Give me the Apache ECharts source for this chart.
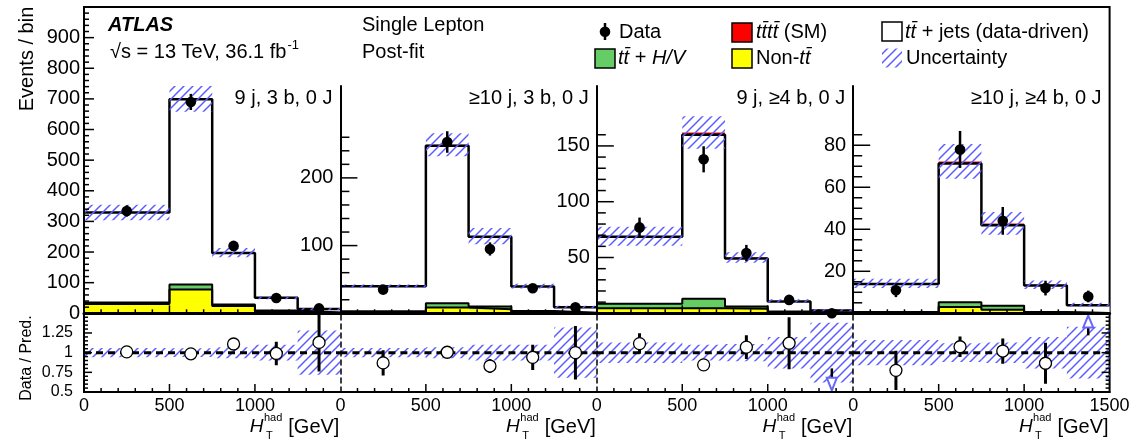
<!DOCTYPE html>
<html><head><meta charset="utf-8">
<script src="https://cdn.jsdelivr.net/npm/echarts@6/dist/echarts.min.js"></script>
<style>html,body{margin:0;padding:0;background:#fff}#c{width:1140px;height:441px}</style>
</head><body><div id="c"></div>
<script>
// ---------------- data ----------------
const binEdges = [0, 500, 750, 1000, 1250, 1500];
const regionLabels = ['9 j, 3 b, 0 J', '\u226510 j, 3 b, 0 J', '9 j, \u22654 b, 0 J', '\u226510 j, \u22654 b, 0 J'];

// panel 1 : 9 j, 3 b, 0 J
const p1Pred = [329, 700, 198, 51, 14];
const p1NonTT = [30, 78, 24, 6, 2];
const p1TtHV = [5, 16, 5, 3, 0.8];
const p1Tttt = [0.3, 1.5, 0.8, 0.4, 0.2];
const p1Unc = [25, 42, 15, 5, 3];
const p1Data = [334, 690, 220, 50, 16];
const p1DataErr = [18.3, 26.3, 14.8, 7.1, 4];
const p1Ratio = [1.01, 0.985, 1.11, 0.99, 1.13];
const p1RatioErr = [0.055, 0.04, 0.07, 0.15, 0.37];
const p1RatioUnc = [0.06, 0.055, 0.07, 0.1, 0.28];

// panel 2 : >=10 j, 3 b, 0 J
const p2Pred = [40, 249, 114, 40, 9.3];
const p2NonTT = [2, 8.5, 6, 2, 0.5];
const p2TtHV = [1, 6.5, 4, 1.5, 0.3];
const p2Tttt = [0.2, 1.5, 1, 0.5, 0.2];
const p2Unc = [2.5, 17, 12, 3.5, 2];
const p2Data = [35, 253, 95, 37, 9];
const p2DataErr = [5.9, 15.9, 9.7, 6.1, 3];
const p2Ratio = [0.87, 1.005, 0.83, 0.94, 1.0];
const p2RatioErr = [0.16, 0.065, 0.09, 0.16, 0.34];
const p2RatioUnc = [0.06, 0.07, 0.1, 0.1, 0.32];

// panel 3 : 9 j, >=4 b, 0 J
const p3Pred = [69, 162, 50, 11, 2.8];
const p3NonTT = [4.5, 4.5, 4, 1, 0.3];
const p3TtHV = [4, 8.5, 2, 0.7, 0.2];
const p3Tttt = [0.5, 2, 1, 0.5, 0.3];
const p3Unc = [8.5, 14.5, 4.6, 1.5, 1];
const p3Data = [77, 138, 54, 12, 0];
const p3DataErr = [8.8, 11.7, 7.3, 3.5, 0];
const p3Ratio = [1.115, 0.845, 1.07, 1.12, null];
const p3RatioErr = [0.13, 0.07, 0.15, 0.33, 0];
const p3RatioUnc = [0.13, 0.1, 0.11, 0.2, 0.38];

// panel 4 : >=10 j, >=4 b, 0 J
const p4Pred = [14.2, 72.3, 42.8, 13.6, 4.1];
const p4NonTT = [0.3, 3, 1.7, 0.3, 0.1];
const p4TtHV = [0.3, 2.3, 1.9, 0.3, 0.1];
const p4Tttt = [0.2, 1, 0.9, 0.4, 0.3];
const p4Unc = [2.2, 8.3, 5.4, 2, 0.9];
const p4Data = [11, 78, 44, 12, 8];
const p4DataErr = [3.3, 8.8, 6.6, 3.5, 2.8];
const p4Ratio = [0.775, 1.075, 1.02, 0.865, null];
const p4RatioErr = [0.25, 0.13, 0.16, 0.26, 0];
const p4RatioUnc = [0.16, 0.12, 0.13, 0.2, 0.33];

// out-of-range ratio arrows: [x, lineStart, triangleBase, triangleTip]
const p3ArrowsDown = [[1375, 0.8, 0.68, 0.52]];
const p4ArrowsUp = [[1375, 1.22, 1.32, 1.47]];

// tick labels
const topLabels1 = [0, 100, 200, 300, 400, 500, 600, 700, 800, 900];
const topLabels2 = [100, 200];
const topLabels3 = [50, 100, 150];
const topLabels4 = [20, 40, 60, 80];
const ratioLabels = [0.5, 0.75, 1, 1.25];
const xLabels = [0, 500, 1000];
const xLabelsLast = [0, 500, 1000, 1500];

// ---------------- style / layout ----------------
const FONT = '"Liberation Sans", Arial, Helvetica, sans-serif';
const HATCH = '#5c5cff';
const COLORS = ['#ffff00', '#66cc66', '#ffffff', '#ff0000'];
const PX = [84, 340.4, 596.8, 853.2, 1109.6];
const TOP1 = 7, TOPN = 86, MIDY = 313.3, BOTY = 392;
const yMaxTop = [1000, 335.7, 203.7, 108.2];

function rng(a, b, s) { const r = []; for (let v = a; v <= b + 1e-9; v += s) r.push(+v.toFixed(6)); return r; }
const topMajor = [rng(0, 1000, 100), [0, 100, 200], [0, 50, 100, 150], [0, 20, 40, 60, 80]];
const topMinor = [rng(0, 1000, 20), rng(0, 260, 20), rng(0, 160, 10), rng(0, 85, 5)];
const topLabels = [topLabels1, topLabels2, topLabels3, topLabels4];
const topTickLen = [10, 17, 17, 17], topMinLen = [5, 9, 9, 9], topMargin = [4, 7, 7, 7];

const panels = [
  {pred: p1Pred, nonTT: p1NonTT, ttHV: p1TtHV, tttt: p1Tttt, unc: p1Unc, data: p1Data, err: p1DataErr, ratio: p1Ratio, rerr: p1RatioErr, runc: p1RatioUnc, up: [], down: []},
  {pred: p2Pred, nonTT: p2NonTT, ttHV: p2TtHV, tttt: p2Tttt, unc: p2Unc, data: p2Data, err: p2DataErr, ratio: p2Ratio, rerr: p2RatioErr, runc: p2RatioUnc, up: [], down: []},
  {pred: p3Pred, nonTT: p3NonTT, ttHV: p3TtHV, tttt: p3Tttt, unc: p3Unc, data: p3Data, err: p3DataErr, ratio: p3Ratio, rerr: p3RatioErr, runc: p3RatioUnc, up: [], down: p3ArrowsDown},
  {pred: p4Pred, nonTT: p4NonTT, ttHV: p4TtHV, tttt: p4Tttt, unc: p4Unc, data: p4Data, err: p4DataErr, ratio: p4Ratio, rerr: p4RatioErr, runc: p4RatioUnc, up: p4ArrowsUp, down: []}
];

const hatchCanvas = (function () {
  const s = 9, c = document.createElement('canvas'); c.width = s; c.height = s;
  const g = c.getContext('2d'); g.strokeStyle = HATCH; g.lineWidth = 1.5; g.beginPath();
  [[-1, s + 1, s + 1, -1], [-1, 1, 1, -1], [s - 1, s + 1, s + 1, s - 1]].forEach(l => { g.moveTo(l[0], l[1]); g.lineTo(l[2], l[3]); });
  g.stroke(); return c;
})();
const HATCH_FILL = {image: hatchCanvas, repeat: 'repeat'};

// ---------------- axes ----------------
const grids = [], xAxes = [], yAxes = [];
grids.push({left: PX[0], top: TOP1, width: PX[4] - PX[0], height: BOTY - TOP1, show: true, borderColor: '#000', borderWidth: 2, backgroundColor: 'rgba(0,0,0,0)', outerBoundsMode: 'none'});
xAxes.push({gridIndex: 0, type: 'value', min: 0, max: 1, show: false});
yAxes.push({gridIndex: 0, type: 'value', min: 0, max: 1, show: false});

function axis(o) {
  return {
    type: 'value', gridIndex: o.grid, min: o.min, max: o.max, position: o.pos, z: 10, silent: true,
    axisLine: {show: !!o.line, onZero: false, lineStyle: {color: '#000', width: o.lw || 2, type: o.dash || 'solid'}},
    axisTick: {show: false},
    axisLabel: o.labels ? {show: true, customValues: o.labels, formatter: v => String(v), fontSize: o.fs, fontFamily: FONT, color: '#000', margin: o.margin} : {show: false},
    splitLine: {show: false}
  };
}
for (let p = 0; p < 4; p++) {
  const top = p ? TOPN : TOP1;
  grids.push({left: PX[p], top: top, width: PX[p + 1] - PX[p], height: MIDY - top, outerBoundsMode: 'none'});
  xAxes.push(axis({grid: 1 + p, min: 0, max: 1500, pos: 'bottom', line: true, lw: 3}));
  yAxes.push(axis({grid: 1 + p, min: 0, max: yMaxTop[p], pos: 'left', line: true, lw: 2, labels: topLabels[p], fs: 20, margin: topMargin[p]}));
}
for (let p = 0; p < 4; p++) {
  grids.push({left: PX[p], top: MIDY, width: PX[p + 1] - PX[p], height: BOTY - MIDY, outerBoundsMode: 'none'});
  xAxes.push(axis({grid: 5 + p, min: 0, max: 1500, pos: 'bottom', line: true, lw: 2, labels: p === 3 ? xLabelsLast : xLabels, fs: 18, margin: 5}));
  if (p === 0) yAxes.push(axis({grid: 5, min: 0.5, max: 1.5, pos: 'left', line: true, lw: 2, labels: ratioLabels, fs: 16, margin: 11}));
  else yAxes.push(axis({grid: 5 + p, min: 0.5, max: 1.5, pos: 'left', line: true, lw: 1.5, dash: [5, 4]}));
}

// ---------------- series ----------------
const series = [];
function tickSeries(ai, vals, len, kind, xMin, xMax, yMin) {
  series.push({type: 'custom', xAxisIndex: ai, yAxisIndex: ai, data: vals.map(v => [v]), z: 12, silent: true,
    renderItem: function (params, api) {
      const v = api.value(0);
      let p, q;
      if (kind === 'L') { p = api.coord([xMin, v]); q = [p[0] + len, p[1]]; }
      else if (kind === 'R') { p = api.coord([xMax, v]); q = [p[0] - len, p[1]]; }
      else { p = api.coord([v, yMin]); q = [p[0], p[1] - len]; }
      return {type: 'line', shape: {x1: p[0], y1: p[1], x2: q[0], y2: q[1]}, style: {stroke: '#000', lineWidth: 1.5}};
    }});
}
const xMajor = [500, 1000], xMinor = rng(100, 1400, 100).filter(v => v % 500 !== 0);
for (let p = 0; p < 4; p++) {
  const t = 1 + p, r = 5 + p;
  tickSeries(t, xMajor, 8, 'B', 0, 1500, 0);
  tickSeries(t, xMinor, 4, 'B', 0, 1500, 0);
  tickSeries(t, topMajor[p].filter(v => v > 0), topTickLen[p], 'L', 0, 1500, 0);
  tickSeries(t, topMinor[p].filter(v => topMajor[p].indexOf(v) < 0), topMinLen[p], 'L', 0, 1500, 0);
  tickSeries(r, xMajor, 8, 'B', 0, 1500, 0.5);
  tickSeries(r, xMinor, 4, 'B', 0, 1500, 0.5);
}
const rMajor = [0.75, 1, 1.25], rMinor = rng(0.55, 1.45, 0.05).filter(v => rMajor.indexOf(v) < 0);
tickSeries(5, rMajor, 8, 'L', 0, 1500, 0.5);
tickSeries(5, rMinor, 4, 'L', 0, 1500, 0.5);
tickSeries(8, rMajor, 8, 'R', 0, 1500, 0.5);
tickSeries(8, rMinor, 4, 'R', 0, 1500, 0.5);

function rectRender(styleFn) {
  return function (params, api) {
    const a = api.coord([api.value(0), api.value(3)]);
    const b = api.coord([api.value(1), api.value(2)]);
    return {type: 'rect', shape: {x: a[0], y: a[1], width: b[0] - a[0], height: b[1] - a[1]}, style: styleFn(api.value(4))};
  };
}
function pointRender(open) {
  return function (params, api) {
    const x = api.value(0), y = api.value(1), e = api.value(2);
    const c = api.coord([x, y]), t = api.coord([x, y + e]), b = api.coord([x, y - e]);
    return {type: 'group', children: [
      {type: 'line', shape: {x1: c[0], y1: t[1], x2: c[0], y2: b[1]}, style: {stroke: '#000', lineWidth: open ? 3 : 2.5}},
      {type: 'circle', shape: {cx: c[0], cy: c[1], r: open ? 6 : 5.3}, style: {fill: open ? '#fff' : '#000', stroke: '#000', lineWidth: open ? 1.3 : 0}}
    ]};
  };
}
function arrowRender(params, api) {
  const x = api.value(0);
  const s = api.coord([x, api.value(1)]), b = api.coord([x, api.value(2)]), t = api.coord([x, api.value(3)]);
  return {type: 'group', children: [
    {type: 'line', shape: {x1: s[0], y1: s[1], x2: b[0], y2: b[1]}, style: {stroke: '#000', lineWidth: 2.5}},
    {type: 'polygon', shape: {points: [[b[0] - 5, b[1]], [b[0] + 5, b[1]], [t[0], t[1]]]}, style: {fill: '#fff', stroke: '#6666ff', lineWidth: 2}}
  ]};
}
const centers = binEdges.slice(0, 5).map((e, i) => (e + binEdges[i + 1]) / 2);
function stepData(c) { return binEdges.slice(0, 5).map((x, i) => [x, c[i]]).concat([[binEdges[5], c[4]]]); }

panels.forEach((P, p) => {
  const xi = 1 + p, yi = 1 + p, rxi = 5 + p, ryi = 5 + p;
  const fill = [], c1 = [], c2 = [], c3 = [], unc = [], pts = [];
  for (let i = 0; i < 5; i++) {
    const jets = P.pred[i] - P.nonTT[i] - P.ttHV[i] - P.tttt[i];
    const comps = [P.nonTT[i], P.ttHV[i], jets, P.tttt[i]];
    let c = 0;
    comps.forEach((v, k) => { fill.push([binEdges[i], binEdges[i + 1], c, c + v, k]); c += v; });
    c1.push(P.nonTT[i]); c2.push(P.nonTT[i] + P.ttHV[i]); c3.push(P.pred[i] - P.tttt[i]);
    unc.push([binEdges[i], binEdges[i + 1], P.pred[i] - P.unc[i], P.pred[i] + P.unc[i], 0]);
    pts.push([centers[i], P.data[i], P.err[i]]);
  }
  series.push({type: 'custom', xAxisIndex: xi, yAxisIndex: yi, data: fill, z: 2, silent: true, renderItem: rectRender(k => ({fill: COLORS[k]}))});
  [c1, c2, c3].forEach((c, k) => series.push({type: 'line', xAxisIndex: xi, yAxisIndex: yi, data: stepData(c), step: 'end', symbol: 'none', silent: true, z: 3, lineStyle: {color: '#000', width: k === 2 ? 2.5 : 2}}));
  series.push({type: 'custom', xAxisIndex: xi, yAxisIndex: yi, data: unc, z: 4, silent: true, renderItem: rectRender(() => ({fill: HATCH_FILL}))});
  series.push({type: 'custom', xAxisIndex: xi, yAxisIndex: yi, data: pts, z: 5, silent: true, renderItem: pointRender(false)});

  const runc = [], rpts = [];
  for (let i = 0; i < 5; i++) {
    runc.push([binEdges[i], binEdges[i + 1], 1 - P.runc[i], 1 + P.runc[i], 0]);
    if (P.ratio[i] !== null) rpts.push([centers[i], P.ratio[i], P.rerr[i]]);
  }
  series.push({type: 'custom', xAxisIndex: rxi, yAxisIndex: ryi, data: runc, z: 3, clip: true, silent: true, renderItem: rectRender(() => ({fill: HATCH_FILL}))});
  series.push({type: 'line', xAxisIndex: rxi, yAxisIndex: ryi, data: [[0, 1], [1500, 1]], symbol: 'none', silent: true, z: 4, lineStyle: {color: '#000', width: 3, type: [7, 5]}});
  series.push({type: 'custom', xAxisIndex: rxi, yAxisIndex: ryi, data: rpts, z: 5, clip: true, silent: true, renderItem: pointRender(true)});
  const arrows = P.up.concat(P.down);
  if (arrows.length) series.push({type: 'custom', xAxisIndex: rxi, yAxisIndex: ryi, data: arrows, z: 6, silent: true, renderItem: arrowRender});
});

// ---------------- texts / legend ----------------
const mctx = document.createElement('canvas').getContext('2d');
function measure(t, size, style) { mctx.font = (style || '') + ' ' + size + 'px ' + FONT; return mctx.measureText(t).width; }
const graphic = [];
function txt(text, x, y, o) {
  o = o || {};
  const st = {text: text, fill: '#000', fontSize: o.fs || 20, fontFamily: FONT, fontStyle: o.italic ? 'italic' : 'normal', fontWeight: o.bold ? 'bold' : 'normal',
    align: o.align || 'left', textAlign: o.align || 'left', verticalAlign: 'middle', textVerticalAlign: 'middle'};
  if (o.rich) st.rich = o.rich;
  graphic.push({type: 'text', x: x, y: y, rotation: o.rot || 0, silent: true, z: 20, style: st});
}
const TB = 't\u0304';
const rich = {i: {fontStyle: 'italic', fontSize: 20, fontFamily: FONT, fill: '#000'}, n: {fontSize: 20, fontFamily: FONT, fill: '#000'}};

txt('ATLAS', 108, 25, {bold: true, italic: true});
const sq = '\u221As = 13 TeV, 36.1 fb';
txt(sq, 110, 52);
txt('-1', 110 + measure(sq, 20) + 1, 45, {fs: 13});
txt('Single Lepton', 362, 25);
txt('Post-fit', 362, 52);
graphic.push({type: 'line', silent: true, z: 20, shape: {x1: 605, y1: 23, x2: 605, y2: 40}, style: {stroke: '#000', lineWidth: 2.5}});
graphic.push({type: 'circle', silent: true, z: 20, shape: {cx: 605, cy: 31.7, r: 5.3}, style: {fill: '#000'}});
txt('Data', 619, 32);
function box(x, y, fill, stroke) { graphic.push({type: 'rect', silent: true, z: 20, shape: {x: x, y: y, width: 20, height: 19}, style: {fill: fill, stroke: stroke, lineWidth: stroke ? 1.5 : 0}}); }
box(732, 23, COLORS[3], '#000'); txt('{i|t' + TB + 't' + TB + '}{n| (SM)}', 756, 32, {rich: rich});
box(595, 49, COLORS[1], '#000'); txt('{i|t' + TB + '}{n| + }{i|H/V}', 618, 58, {rich: rich});
box(732, 49, COLORS[0], '#000'); txt('{n|Non-}{i|t' + TB + '}', 756, 58, {rich: rich});
box(882, 22, COLORS[2], '#000'); txt('{i|t' + TB + '}{n| + jets (data-driven)}', 905, 32, {rich: rich});
box(882, 48.5, HATCH_FILL, null); txt('Uncertainty', 906, 58);
for (let p = 0; p < 4; p++) {
  txt(regionLabels[p], PX[p + 1] - 8, 98, {align: 'right'});
  const R = PX[p + 1];
  const wG = measure('[GeV]', 20);
  const xG = R - 1 - wG;
  txt('[GeV]', xG, 427);
  const wHad = measure('had', 11);
  const hadL = xG - 6 - wHad;
  txt('had', hadL, 418, {fs: 11});
  txt('T', hadL + 2, 436, {fs: 11});
  txt('H', hadL - 0.5, 427, {fs: 19, italic: true, align: 'right'});
}
txt('Events / bin', 27, 59, {rot: Math.PI / 2, align: 'center'});
txt('Data / Pred.', 27, 358, {rot: Math.PI / 2, align: 'center', fs: 16});

const chart = echarts.init(document.getElementById('c'), null, {renderer: 'canvas'});
chart.setOption({
  animation: false,
  backgroundColor: '#fff',
  grid: grids, xAxis: xAxes, yAxis: yAxes, series: series, graphic: graphic
});
</script></body></html>
